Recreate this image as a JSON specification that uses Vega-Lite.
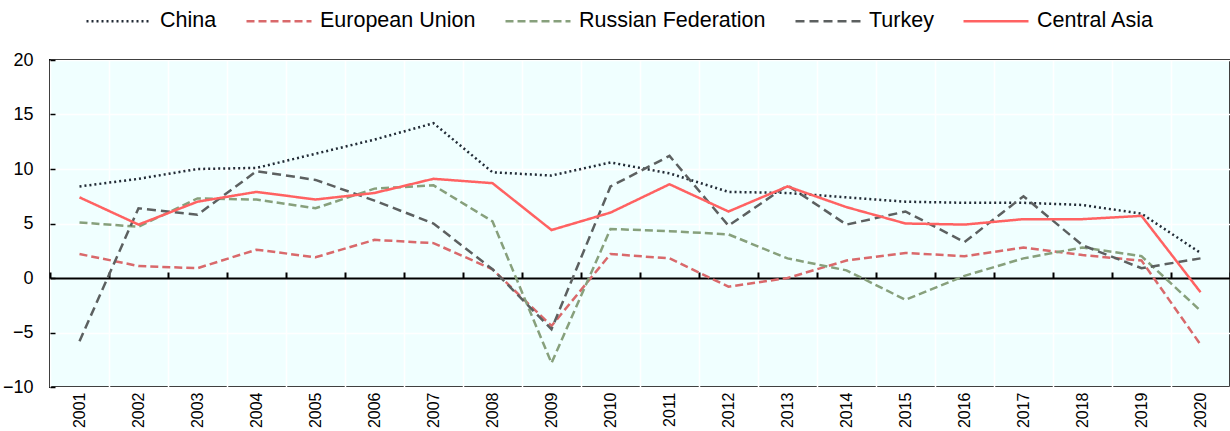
{
  "$schema": "https://vega.github.io/schema/vega-lite/v6.json",
  "width": 1180,
  "height": 327,
  "autosize": {"type": "none"},
  "padding": {"left": 50, "top": 60, "right": 0, "bottom": 44},
  "background": "white",
  "config": {
    "view": {"stroke": "#000000", "strokeWidth": 2, "fill": "#f0ffff"},
    "font": "Liberation Sans",
    "legend": {
      "orient": "none",
      "legendX": 35,
      "legendY": -73,
      "padding": 0,
      "direction": "horizontal",
      "columns": 5,
      "title": null,
      "labelFont": "Liberation Sans",
      "labelFontSize": 21.5,
      "labelColor": "#000000",
      "labelLimit": 400,
      "labelOffset": 7,
      "columnPadding": 24,
      "symbolType": "stroke",
      "symbolSize": 4225,
      "symbolStrokeWidth": 2.5
    }
  },
  "data": {
    "values": [
      {"year": "2001", "series": "China", "value": 8.4},
      {"year": "2002", "series": "China", "value": 9.1},
      {"year": "2003", "series": "China", "value": 10.0},
      {"year": "2004", "series": "China", "value": 10.1},
      {"year": "2005", "series": "China", "value": 11.4},
      {"year": "2006", "series": "China", "value": 12.7},
      {"year": "2007", "series": "China", "value": 14.2},
      {"year": "2008", "series": "China", "value": 9.7},
      {"year": "2009", "series": "China", "value": 9.4},
      {"year": "2010", "series": "China", "value": 10.6},
      {"year": "2011", "series": "China", "value": 9.6},
      {"year": "2012", "series": "China", "value": 7.9},
      {"year": "2013", "series": "China", "value": 7.8},
      {"year": "2014", "series": "China", "value": 7.4},
      {"year": "2015", "series": "China", "value": 7.0},
      {"year": "2016", "series": "China", "value": 6.9},
      {"year": "2017", "series": "China", "value": 6.9},
      {"year": "2018", "series": "China", "value": 6.7},
      {"year": "2019", "series": "China", "value": 5.9},
      {"year": "2020", "series": "China", "value": 2.3},
      {"year": "2001", "series": "European Union", "value": 2.2},
      {"year": "2002", "series": "European Union", "value": 1.1},
      {"year": "2003", "series": "European Union", "value": 0.9},
      {"year": "2004", "series": "European Union", "value": 2.6},
      {"year": "2005", "series": "European Union", "value": 1.9},
      {"year": "2006", "series": "European Union", "value": 3.5},
      {"year": "2007", "series": "European Union", "value": 3.2},
      {"year": "2008", "series": "European Union", "value": 0.8},
      {"year": "2009", "series": "European Union", "value": -4.4},
      {"year": "2010", "series": "European Union", "value": 2.2},
      {"year": "2011", "series": "European Union", "value": 1.8},
      {"year": "2012", "series": "European Union", "value": -0.8},
      {"year": "2013", "series": "European Union", "value": 0.0},
      {"year": "2014", "series": "European Union", "value": 1.6},
      {"year": "2015", "series": "European Union", "value": 2.3},
      {"year": "2016", "series": "European Union", "value": 2.0},
      {"year": "2017", "series": "European Union", "value": 2.8},
      {"year": "2018", "series": "European Union", "value": 2.1},
      {"year": "2019", "series": "European Union", "value": 1.6},
      {"year": "2020", "series": "European Union", "value": -6.1},
      {"year": "2001", "series": "Russian Federation", "value": 5.1},
      {"year": "2002", "series": "Russian Federation", "value": 4.7},
      {"year": "2003", "series": "Russian Federation", "value": 7.3},
      {"year": "2004", "series": "Russian Federation", "value": 7.2},
      {"year": "2005", "series": "Russian Federation", "value": 6.4},
      {"year": "2006", "series": "Russian Federation", "value": 8.2},
      {"year": "2007", "series": "Russian Federation", "value": 8.5},
      {"year": "2008", "series": "Russian Federation", "value": 5.2},
      {"year": "2009", "series": "Russian Federation", "value": -7.8},
      {"year": "2010", "series": "Russian Federation", "value": 4.5},
      {"year": "2011", "series": "Russian Federation", "value": 4.3},
      {"year": "2012", "series": "Russian Federation", "value": 4.0},
      {"year": "2013", "series": "Russian Federation", "value": 1.8},
      {"year": "2014", "series": "Russian Federation", "value": 0.7},
      {"year": "2015", "series": "Russian Federation", "value": -2.0},
      {"year": "2016", "series": "Russian Federation", "value": 0.2},
      {"year": "2017", "series": "Russian Federation", "value": 1.8},
      {"year": "2018", "series": "Russian Federation", "value": 2.8},
      {"year": "2019", "series": "Russian Federation", "value": 2.0},
      {"year": "2020", "series": "Russian Federation", "value": -3.0},
      {"year": "2001", "series": "Turkey", "value": -5.8},
      {"year": "2002", "series": "Turkey", "value": 6.4},
      {"year": "2003", "series": "Turkey", "value": 5.8},
      {"year": "2004", "series": "Turkey", "value": 9.8},
      {"year": "2005", "series": "Turkey", "value": 9.0},
      {"year": "2006", "series": "Turkey", "value": 7.1},
      {"year": "2007", "series": "Turkey", "value": 5.0},
      {"year": "2008", "series": "Turkey", "value": 0.8},
      {"year": "2009", "series": "Turkey", "value": -4.7},
      {"year": "2010", "series": "Turkey", "value": 8.4},
      {"year": "2011", "series": "Turkey", "value": 11.2},
      {"year": "2012", "series": "Turkey", "value": 4.8},
      {"year": "2013", "series": "Turkey", "value": 8.5},
      {"year": "2014", "series": "Turkey", "value": 4.9},
      {"year": "2015", "series": "Turkey", "value": 6.1},
      {"year": "2016", "series": "Turkey", "value": 3.3},
      {"year": "2017", "series": "Turkey", "value": 7.5},
      {"year": "2018", "series": "Turkey", "value": 3.0},
      {"year": "2019", "series": "Turkey", "value": 0.9},
      {"year": "2020", "series": "Turkey", "value": 1.8},
      {"year": "2001", "series": "Central Asia", "value": 7.4},
      {"year": "2002", "series": "Central Asia", "value": 4.9},
      {"year": "2003", "series": "Central Asia", "value": 7.0},
      {"year": "2004", "series": "Central Asia", "value": 7.9},
      {"year": "2005", "series": "Central Asia", "value": 7.2},
      {"year": "2006", "series": "Central Asia", "value": 7.8},
      {"year": "2007", "series": "Central Asia", "value": 9.1},
      {"year": "2008", "series": "Central Asia", "value": 8.7},
      {"year": "2009", "series": "Central Asia", "value": 4.4},
      {"year": "2010", "series": "Central Asia", "value": 6.0},
      {"year": "2011", "series": "Central Asia", "value": 8.6},
      {"year": "2012", "series": "Central Asia", "value": 6.1},
      {"year": "2013", "series": "Central Asia", "value": 8.4},
      {"year": "2014", "series": "Central Asia", "value": 6.5},
      {"year": "2015", "series": "Central Asia", "value": 5.0},
      {"year": "2016", "series": "Central Asia", "value": 4.9},
      {"year": "2017", "series": "Central Asia", "value": 5.4},
      {"year": "2018", "series": "Central Asia", "value": 5.4},
      {"year": "2019", "series": "Central Asia", "value": 5.7},
      {"year": "2020", "series": "Central Asia", "value": -1.3}
    ]
  },
  "resolve": {"axis": {"x": "independent"}},
  "layer": [
    {
      "mark": {"type": "line", "opacity": 0},
      "encoding": {
        "x": {
          "field": "year", "type": "ordinal", "bandPosition": 0.5,
          "scale": {"type": "band", "paddingInner": 0, "paddingOuter": 0},
          "axis": {
            "orient": "bottom",
            "title": null, "labels": false, "grid": false,
            "offset": -109, "domain": true, "domainColor": "#000000", "domainWidth": 2,
            "ticks": true, "tickSize": -6, "tickColor": "#000000", "tickWidth": 2,
            "tickBand": "extent"
          }
        },
        "y": {"field": "value", "type": "quantitative", "scale": {"domain": [-10, 20]}}
      }
    },
    {
      "mark": {"type": "line", "strokeWidth": 2.5},
      "encoding": {
        "x": {
          "field": "year", "type": "ordinal", "bandPosition": 0.5,
          "scale": {"type": "band", "paddingInner": 0, "paddingOuter": 0},
          "axis": {
            "orient": "bottom",
            "title": null, "labelAngle": -90, "labelAlign": "right", "labelBaseline": "middle",
            "labelFont": "Liberation Sans", "labelFontSize": 16, "labelColor": "#000000",
            "labelPadding": 5, "ticks": false, "domain": false,
            "grid": true, "gridColor": "#ffffff", "gridWidth": 1.5, "tickBand": "extent"
          }
        },
        "y": {
          "field": "value", "type": "quantitative",
          "scale": {"domain": [-10, 20], "nice": false},
          "axis": {
            "title": null, "values": [-10, -5, 0, 5, 10, 15, 20],
            "labelFont": "Liberation Sans", "labelFontSize": 18, "labelColor": "#000000",
            "domain": false, "ticks": true, "tickSize": -5, "tickColor": "#000000", "tickWidth": 1.5,
            "labelPadding": 22,
            "grid": true, "gridColor": "#ffffff", "gridWidth": 1.5
          }
        },
        "color": {
          "field": "series", "type": "nominal",
          "sort": ["China", "European Union", "Russian Federation", "Turkey", "Central Asia"],
          "scale": {
            "domain": ["China", "European Union", "Russian Federation", "Turkey", "Central Asia"],
            "range": ["#222b36", "#d9696b", "#87a07c", "#5c6060", "#ff6262"]
          }
        },
        "strokeDash": {
          "field": "series", "type": "nominal",
          "sort": ["China", "European Union", "Russian Federation", "Turkey", "Central Asia"],
          "scale": {
            "domain": ["China", "European Union", "Russian Federation", "Turkey", "Central Asia"],
            "range": [[2, 3], [8, 4], [8, 4], [9, 5], [1, 0]]
          }
        }
      }
    }
  ]
}
